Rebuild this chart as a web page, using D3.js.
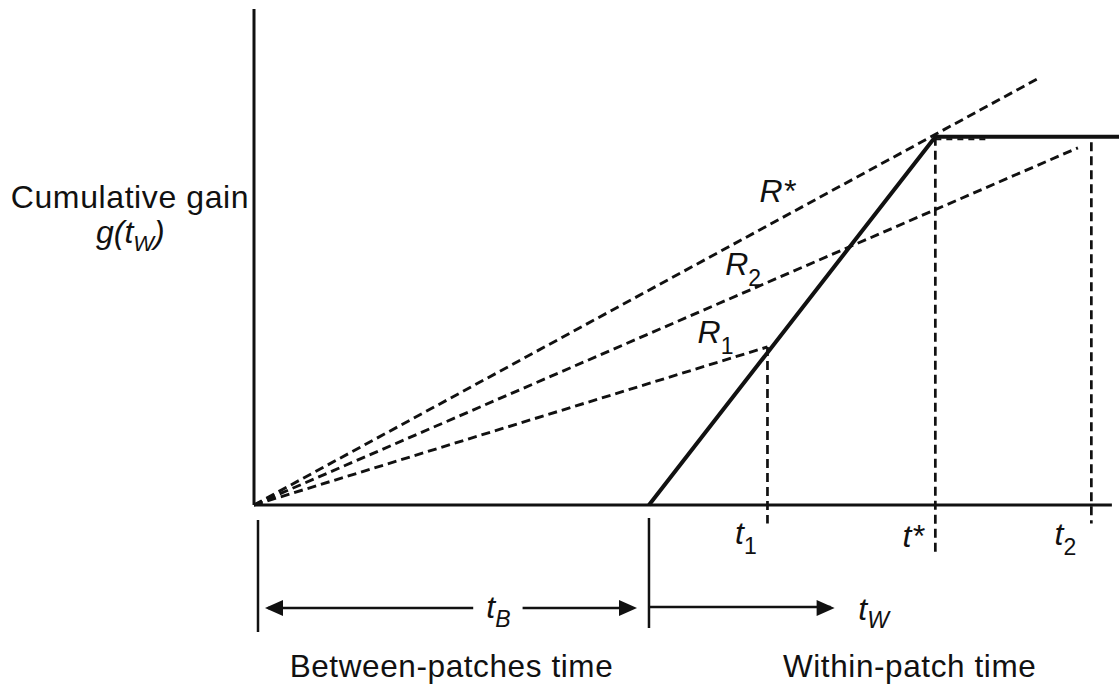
<!DOCTYPE html>
<html>
<head>
<meta charset="utf-8">
<script src="https://cdn.jsdelivr.net/npm/d3@7"></script>
<style>
  html, body { margin: 0; padding: 0; background: #fff; }
  svg { display: block; }
  text { font-family: "Liberation Sans", Arial, Helvetica, sans-serif; fill: #111; }
  .it { font-style: italic; }
</style>
</head>
<body>
<script>
// ---- data (time units; between-patches time tB = 10) ----
const tB = 10;
const timeDomain = [-10, 11.9];
const gainDomain = [0, 13.4];
// cumulative gain curve g(tW): rises linearly then saturates
const gainT = [0, 7.25, 11.9];
const gainG = [0, 9.95, 9.95];
// rate lines from the origin (-tB, 0) to their end points
const rateNames = ["R*", "R2", "R1"];
const rateEndT = [9.9, 10.86, 3.0];
const rateEndG = [11.55, 9.65, 4.27];
// residence-time markers
const markNames = ["t1", "t*", "t2"];
const markT = [3.0, 7.25, 11.2];
const markTopG = [4.27, 9.95, 9.8];
const markBottomG = [-0.5, -1.3, -0.5];

const W = 1119, H = 685;
const svg = d3.select("body").append("svg").attr("width", W).attr("height", H);
svg.append("rect").attr("width", W).attr("height", H).attr("fill", "#fff");

const x = d3.scaleLinear().domain(timeDomain).range([254, 1119]);
const y = d3.scaleLinear().domain(gainDomain).range([505, 9]);

const ink = "#111";

// axes
svg.append("line").attr("x1", x(-tB)).attr("x2", x(-tB)).attr("y1", y(0)).attr("y2", y(gainDomain[1]))
  .attr("stroke", ink).attr("stroke-width", 3);
svg.append("line").attr("x1", x(-tB)).attr("x2", x(11.72)).attr("y1", y(0)).attr("y2", y(0))
  .attr("stroke", ink).attr("stroke-width", 3);

// rate lines (dashed)
rateNames.forEach((n, i) => {
  svg.append("line")
    .attr("x1", x(-tB)).attr("y1", y(0))
    .attr("x2", x(rateEndT[i])).attr("y2", y(rateEndG[i]))
    .attr("stroke", ink).attr("stroke-width", 2.9).attr("stroke-dasharray", "9,5");
});

// vertical markers (dashed)
markNames.forEach((n, i) => {
  svg.append("line")
    .attr("x1", x(markT[i])).attr("x2", x(markT[i]))
    .attr("y1", y(markTopG[i])).attr("y2", y(markBottomG[i]))
    .attr("stroke", ink).attr("stroke-width", 2.7).attr("stroke-dasharray", "9,5");
});
// dashed guide under the plateau from t*
svg.append("line").attr("x1", x(7.25)).attr("x2", x(8.6)).attr("y1", y(9.88)).attr("y2", y(9.88))
  .attr("stroke", ink).attr("stroke-width", 2).attr("stroke-dasharray", "6,5");

// gain curve
const line = d3.line().x(d => x(d[0])).y(d => y(d[1]));
svg.append("path").datum(gainT.map((t, i) => [t, gainG[i]]))
  .attr("d", line).attr("fill", "none").attr("stroke", ink).attr("stroke-width", 4)
  .attr("stroke-linejoin", "miter");

// helper for symbol + subscript labels
function symLabel(px, py, main, sub, size, subSize, anchor) {
  const t = svg.append("text").attr("x", px).attr("y", py).attr("font-size", size)
    .attr("text-anchor", anchor || "start");
  t.append("tspan").attr("class", "it").text(main);
  if (sub) t.append("tspan").attr("class", sub.italic ? "it" : null).attr("font-size", subSize)
    .attr("dy", sub.dy).text(sub.text);
  return t;
}

// rate labels
symLabel(x(2.8), 202, "R*", null, 32);
symLabel(x(1.93), 275, "R", {text: "2", dy: 11}, 32, 23);
symLabel(x(1.23), 343, "R", {text: "1", dy: 11}, 32, 23);

// time markers under axis
symLabel(x(2.18), 544, "t", {text: "1", dy: 10}, 32, 23);
symLabel(x(6.42), 547, "t*", null, 32);
symLabel(x(10.27), 545, "t", {text: "2", dy: 10}, 32, 23);

// y axis label
svg.append("text").attr("x", 130).attr("y", 208).attr("text-anchor", "middle")
  .attr("font-size", 32).attr("letter-spacing", 0.6).text("Cumulative gain");
symLabel(96, 243, "g(t", {text: "W", dy: 8, italic: true}, 32, 22)
  .append("tspan").attr("class", "it").attr("dy", -8).text(")");

// bottom brackets
const yArrow = 608;
svg.append("line").attr("x1", x(-tB) + 4).attr("x2", x(-tB) + 4).attr("y1", 520).attr("y2", 632)
  .attr("stroke", ink).attr("stroke-width", 2.5);
svg.append("line").attr("x1", x(0)).attr("x2", x(0)).attr("y1", 518).attr("y2", 628)
  .attr("stroke", ink).attr("stroke-width", 2.5);

function arrowHead(tipX, dir) {
  const len = 18, half = 8;
  svg.append("path")
    .attr("d", `M${tipX},${yArrow} L${tipX - dir * len},${yArrow - half} L${tipX - dir * len},${yArrow + half} Z`)
    .attr("fill", ink);
}
// between-patches arrow
svg.append("line").attr("x1", x(-tB) + 14).attr("x2", x(-4.45)).attr("y1", yArrow).attr("y2", yArrow)
  .attr("stroke", ink).attr("stroke-width", 2.5);
svg.append("line").attr("x1", x(-3.2)).attr("x2", x(0) - 18).attr("y1", yArrow).attr("y2", yArrow)
  .attr("stroke", ink).attr("stroke-width", 2.5);
arrowHead(x(-tB) + 11, -1);
arrowHead(x(0) - 12, 1);
symLabel(x(-4.12), 618, "t", {text: "B", dy: 9, italic: true}, 32, 23);

// within-patch arrow
svg.append("line").attr("x1", x(0)).attr("x2", x(4.6)).attr("y1", yArrow - 1).attr("y2", yArrow - 1)
  .attr("stroke", ink).attr("stroke-width", 2.5);
arrowHead(x(4.7), 1);
symLabel(x(5.3), 620, "t", {text: "W", dy: 8, italic: true}, 32, 23);

// bottom captions
svg.append("text").attr("x", x(-5)).attr("y", 677).attr("text-anchor", "middle")
  .attr("font-size", 31.5).attr("letter-spacing", 0.6).text("Between-patches time");
svg.append("text").attr("x", x(6.6)).attr("y", 677).attr("text-anchor", "middle")
  .attr("font-size", 31.5).attr("letter-spacing", 0.6).text("Within-patch time");
</script>
</body>
</html>
